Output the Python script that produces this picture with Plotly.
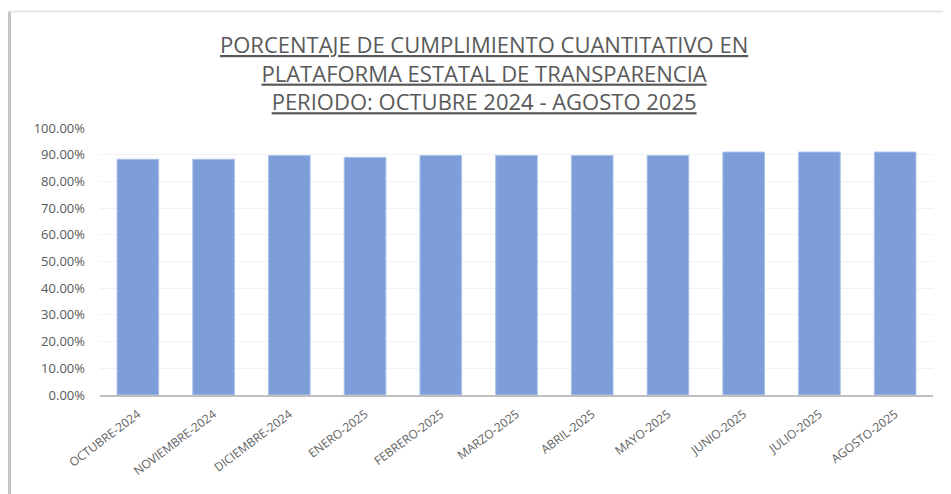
import plotly.graph_objects as go

categories = ["OCTUBRE-2024", "NOVIEMBRE-2024", "DICIEMBRE-2024", "ENERO-2025",
              "FEBRERO-2025", "MARZO-2025", "ABRIL-2025", "MAYO-2025",
              "JUNIO-2025", "JULIO-2025", "AGOSTO-2025"]
values = [0.883, 0.883, 0.897, 0.890, 0.897, 0.897, 0.897, 0.897, 0.910, 0.910, 0.910]
tick_vals = [i / 10 for i in range(11)]
tick_text = [f"{v*100:.2f}%" for v in tick_vals]
title_lines = ["PORCENTAJE DE CUMPLIMIENTO CUANTITATIVO EN",
               "PLATAFORMA ESTATAL DE TRANSPARENCIA",
               "PERIODO: OCTUBRE 2024 - AGOSTO 2025"]

# the page body has an 8px default margin; work in screen pixels and shift
OFF = 8
SW, SH = 951, 494
W, H = SW - OFF, SH - OFF
# plot area in screen pixels
left, right, top, bottom = 100, 933, 127.7, 395
ml, mr = left - OFF, SW - right
mt, mb = top - OFF, SH - bottom
pw, ph = W - ml - mr, H - mt - mb

def px_x(p):
    return (p - left) / pw

def px_y(p):
    return (bottom - p) / ph

FONT = "Open Sans, sans-serif"

fig = go.Figure(go.Bar(
    x=categories, y=values,
    marker=dict(color="rgb(125,158,216)", line=dict(color="rgb(170,195,235)", width=1)),
    width=0.55,
))

fig.update_layout(
    width=W, height=H,
    margin=dict(l=ml, r=mr, t=mt, b=mb),
    paper_bgcolor="white", plot_bgcolor="white",
    showlegend=False,
    font=dict(family=FONT, color="#595959"),
    annotations=[dict(
        text="<br>".join(f"<u>{t}</u>" for t in title_lines),
        xref="paper", yref="paper",
        x=px_x(484), y=px_y(72.5), xanchor="center", yanchor="middle",
        showarrow=False, align="center",
        font=dict(size=22, color="#595959", family=FONT),
    )],
    xaxis=dict(
        tickangle=-37, tickfont=dict(size=12, color="#5F5F5F", family=FONT),
        showline=True, linecolor="#BFBFBF", linewidth=1.5,
        showgrid=False, ticks="", ticklabelstandoff=6,
    ),
    yaxis=dict(
        range=[0, 1.0], tickvals=tick_vals, ticktext=tick_text,
        tickfont=dict(size=13, color="#595959", family=FONT),
        showgrid=True, gridcolor="#F2F2F2", gridwidth=1,
        zeroline=False, showline=False, ticks="", ticklabelstandoff=14,
    ),
    shapes=[
        dict(type="line", xref="paper", yref="paper",
             x0=px_x(9.5), x1=px_x(9.5), y0=px_y(11), y1=px_y(494),
             line=dict(color="#C4C4C4", width=3)),
        dict(type="line", xref="paper", yref="paper",
             x0=px_x(9), x1=px_x(951), y0=px_y(11), y1=px_y(11),
             line=dict(color="#E6E6E6", width=2)),
    ],
)

fig.write_html("out.html")
